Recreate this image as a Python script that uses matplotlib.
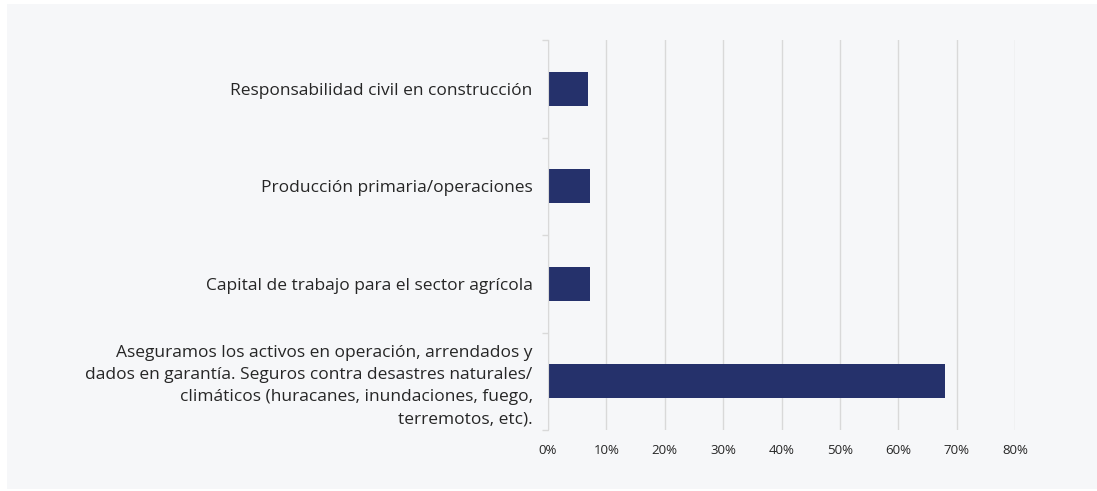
import matplotlib.pyplot as plt
from matplotlib.patches import Rectangle
from matplotlib.ticker import FixedLocator, PercentFormatter

# bottom-to-top order, as drawn
categories = [
    "Aseguramos los activos en operación, arrendados y\n"
    "dados en garantía. Seguros contra desastres naturales/\n"
    "climáticos (huracanes, inundaciones, fuego,\n"
    "terremotos, etc).",
    "Capital de trabajo para el sector agrícola",
    "Producción primaria/operaciones",
    "Responsabilidad civil en construcción",
]
values = [68.0, 7.2, 7.2, 6.9]
x_ticks = [0, 10, 20, 30, 40, 50, 60, 70, 80]

BAR_COLOR = "#25316b"
PANEL = "#f6f7f9"
GRID = "#d9d9d9"
TEXT = "#262626"

plt.rcParams["font.family"] = ["Open Sans", "DejaVu Sans"]

fig = plt.figure(figsize=(10.97, 4.91), dpi=100, facecolor="white")
fig.add_artist(Rectangle((7 / 1097, 2 / 491), 1 - 7 / 1097, 1 - 6 / 491,
                         transform=fig.transFigure, facecolor=PANEL,
                         edgecolor="none", zorder=-10))

ax = fig.add_axes([548 / 1097, 1 - 430 / 491, (1015 - 548) / 1097, 390 / 491])
ax.set_zorder(1)
ax.patch.set_alpha(0)

pos = list(range(len(categories)))
ax.barh(pos, values, height=0.35, color=BAR_COLOR, zorder=3)

ax.set_xlim(0, 80)
ax.set_ylim(-0.5, len(categories) - 0.5)
ax.set_xticks(x_ticks)
ax.xaxis.set_major_formatter(PercentFormatter(decimals=0))
ax.set_yticks(pos)
ax.set_yticklabels(categories, fontsize=12.5, color=TEXT, linespacing=1.52)
ax.yaxis.set_minor_locator(FixedLocator([p - 0.5 for p in pos] + [len(pos) - 0.5]))

ax.tick_params(axis="y", which="major", length=0, pad=11)
ax.tick_params(axis="y", which="minor", length=4, color=GRID, width=1)
ax.tick_params(axis="x", length=0, pad=10, labelsize=9.5, labelcolor=TEXT)

ax.grid(axis="x", color=GRID, linewidth=1, zorder=0)
for side in ["top", "right", "bottom"]:
    ax.spines[side].set_visible(False)
ax.spines["left"].set_color(GRID)
ax.spines["left"].set_zorder(4)

fig.savefig("out.png", dpi=100, facecolor="white")
